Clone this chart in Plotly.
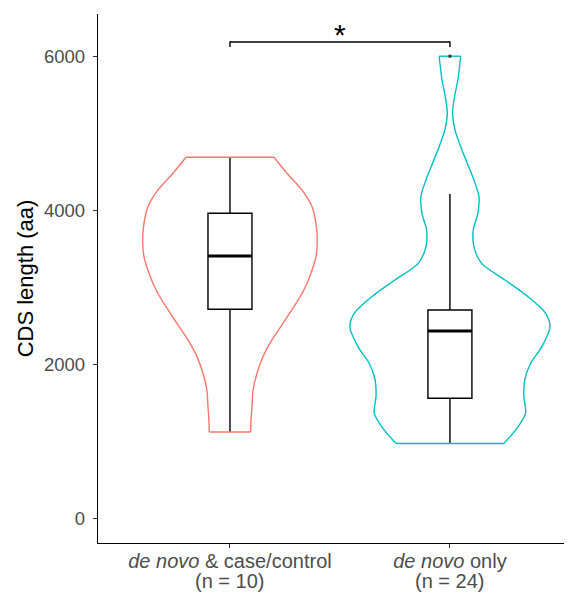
import plotly.graph_objects as go

# ---------------- data ----------------
groups = ["de novo & case/control", "de novo only"]
group_pos = [1, 2]
tick_line1 = ["<i>de novo</i> & case/control", "<i>de novo</i> only"]
tick_line2 = ["(n = 10)", "(n = 24)"]
colors = ["#F8766D", "#00BFC4"]

# violin outlines: y level and half-width (category units)
v1_y = [1130, 1300, 1458, 1675, 1892, 2108, 2325, 2541, 2757, 2974, 3190,
        3407, 3623, 3840, 4056, 4273, 4490, 4697]
v1_w = [0.094, 0.096, 0.100, 0.105, 0.123, 0.150, 0.191, 0.241, 0.291, 0.336,
        0.368, 0.391, 0.397, 0.391, 0.373, 0.327, 0.259, 0.200]
v2_y = [980, 1156, 1372, 1589, 1805, 2022, 2238, 2497, 2671, 2887, 3104, 3320,
        3537, 3753, 3970, 4186, 4403, 4619, 4835, 5052, 5268, 5485, 5701, 6010]
v2_w = [0.245, 0.299, 0.344, 0.336, 0.340, 0.367, 0.418, 0.455, 0.435, 0.355,
        0.250, 0.144, 0.109, 0.106, 0.127, 0.132, 0.109, 0.079, 0.049, 0.023,
        0.012, 0.021, 0.036, 0.049]

# box statistics
q1 = [2723, 1567]
median = [3416, 2442]
q3 = [3970, 2714]
lower = [1130, 980]
upper = [4697, 4221]
outlier_x = [2]
outlier_y = [6010]

# significance bracket
bracket_x = [1, 2]
bracket_y = 6195
bracket_tick = 6130
sig_label = "*"

y_ticks = [0, 2000, 4000, 6000]
box_width = 0.2

FONT = "Liberation Sans, Arial, sans-serif"

fig = go.Figure()

violins = [(v1_y, v1_w), (v2_y, v2_w)]
for pos, (vy, vw), col in zip(group_pos, violins, colors):
    # smooth sides
    xs = [pos + w for w in vw] + [None] + [pos - w for w in vw]
    ys = list(vy) + [None] + list(vy)
    fig.add_trace(go.Scatter(x=xs, y=ys, mode="lines",
                             line=dict(color=col, width=1.4, shape="spline", smoothing=0.8),
                             connectgaps=False, hoverinfo="skip"))
    # flat trimmed ends
    fx = [pos - vw[0], pos + vw[0], None, pos - vw[-1], pos + vw[-1]]
    fy = [vy[0], vy[0], None, vy[-1], vy[-1]]
    fig.add_trace(go.Scatter(x=fx, y=fy, mode="lines",
                             line=dict(color=col, width=1.4),
                             connectgaps=False, hoverinfo="skip"))

for i, pos in enumerate(group_pos):
    fig.add_trace(go.Box(x=[pos], q1=[q1[i]], median=[median[i]], q3=[q3[i]],
                         lowerfence=[lower[i]], upperfence=[upper[i]],
                         width=box_width, whiskerwidth=0,
                         fillcolor="white", line=dict(color="black", width=1.4),
                         boxpoints=False, hoverinfo="skip"))
    fig.add_trace(go.Scatter(x=[pos - box_width / 2, pos + box_width / 2],
                             y=[median[i], median[i]], mode="lines",
                             line=dict(color="black", width=3), hoverinfo="skip"))

fig.add_trace(go.Scatter(x=outlier_x, y=outlier_y, mode="markers",
                         marker=dict(color="#333333", size=3, symbol="square"),
                         hoverinfo="skip"))

fig.add_trace(go.Scatter(x=[bracket_x[0], bracket_x[0], bracket_x[1], bracket_x[1]],
                         y=[bracket_tick, bracket_y, bracket_y, bracket_tick],
                         mode="lines", line=dict(color="black", width=1.4),
                         hoverinfo="skip"))

fig.add_annotation(x=sum(bracket_x) / 2, y=bracket_y, text=sig_label, showarrow=False,
                   yanchor="bottom", yshift=-11, font=dict(family=FONT, size=30, color="black"))

for pos, t in zip(group_pos, tick_line2):
    fig.add_annotation(x=pos, y=0, xref="x", yref="paper", text=t, showarrow=False,
                       yanchor="bottom", yshift=-51,
                       font=dict(family=FONT, size=20, color="#4D4D4D"))

# the page body adds an 8px offset, so the figure is 8px smaller
fig.update_layout(
    width=564, height=586,
    margin=dict(l=90, r=0, t=6, b=51, autoexpand=False),
    plot_bgcolor="white", paper_bgcolor="white",
    showlegend=False,
    font=dict(family=FONT),
    xaxis=dict(range=[0.4, 2.555], tickvals=group_pos, ticktext=tick_line1,
               automargin=False,
               showline=True, linecolor="black", linewidth=1.3,
               ticks="outside", ticklen=4, tickcolor="#333333", tickwidth=1.2,
               ticklabelstandoff=-4,
               tickfont=dict(family=FONT, size=20, color="#4D4D4D"),
               showgrid=False, zeroline=False),
    yaxis=dict(range=[-312, 6558], tickvals=y_ticks, automargin=False,
               showline=True, linecolor="black", linewidth=1.3,
               ticks="outside", ticklen=4, tickcolor="#333333", tickwidth=1.2,
               ticklabelstandoff=4,
               tickfont=dict(family=FONT, size=18.5, color="#4D4D4D"),
               title=dict(text="CDS length (aa)", font=dict(family=FONT, size=22, color="black"),
                          standoff=4),
               showgrid=False, zeroline=False),
)

fig.write_html("out.html")
